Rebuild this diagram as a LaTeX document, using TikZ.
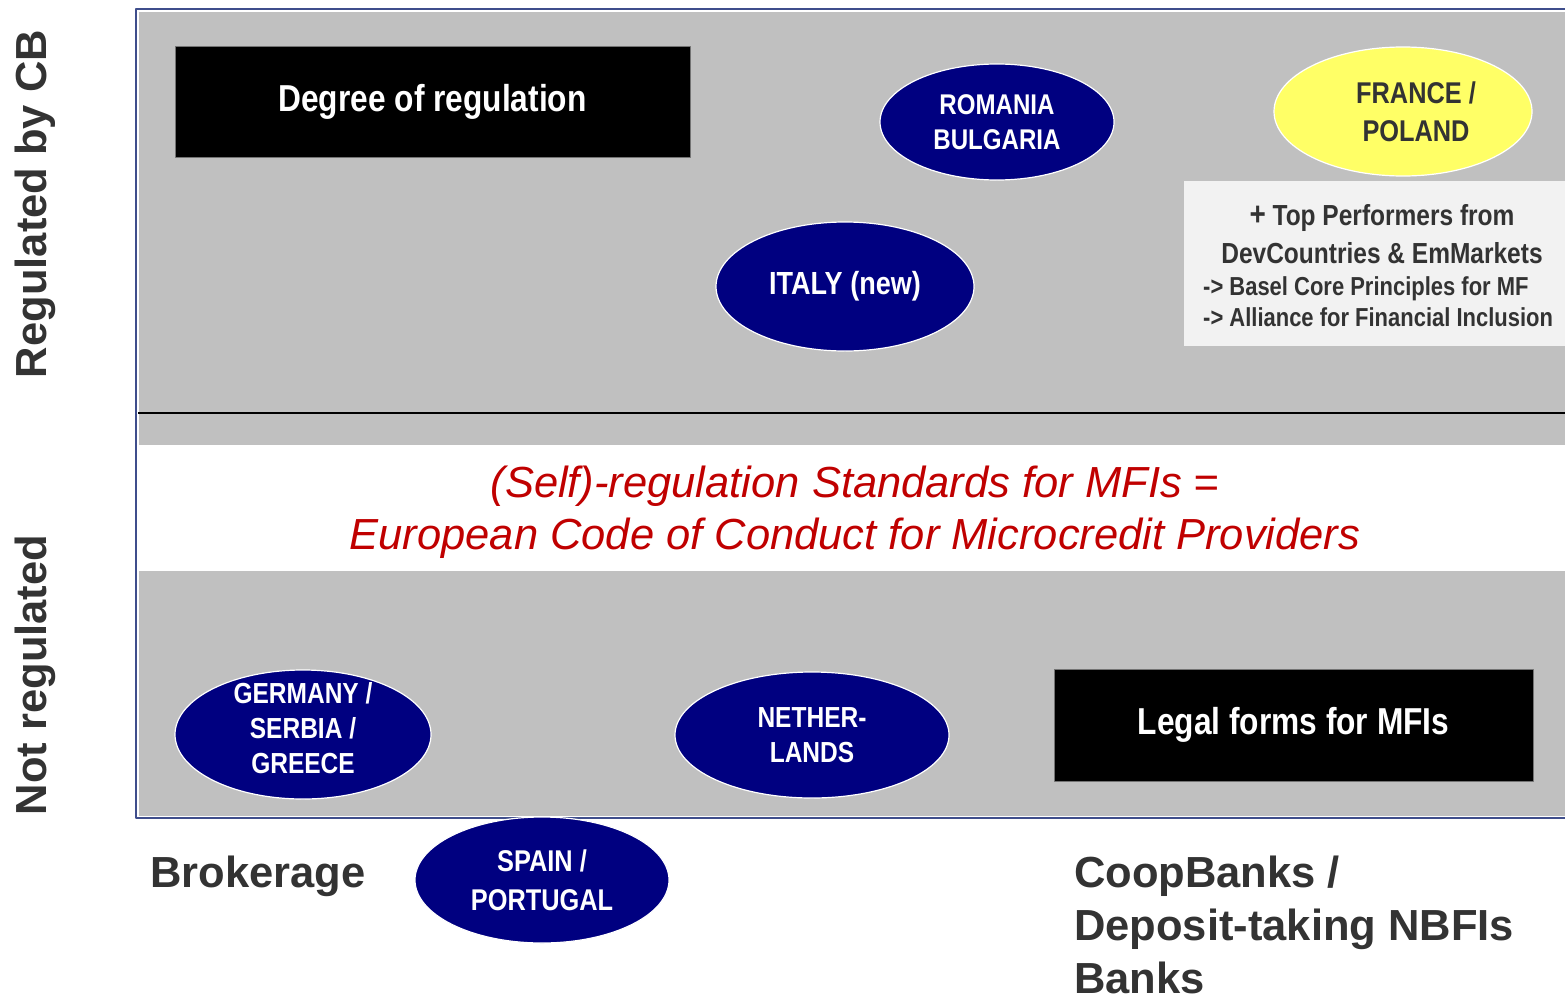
\documentclass[tikz,border=0pt]{standalone}
\usepackage{fontspec}
\setmainfont{Liberation Sans}
\newfontfamily\narrowfont[FakeStretch=0.845]{Liberation Sans}
\usetikzlibrary{shapes.geometric}
\definecolor{mfNavy}{HTML}{000080}
\definecolor{mfGray}{HTML}{C0C0C0}
\definecolor{mfFrame}{HTML}{3F4E8C}
\definecolor{mfInk}{HTML}{333333}
\definecolor{mfRed}{HTML}{C00000}
\definecolor{mfYellow}{HTML}{FFFF66}
\definecolor{mfPale}{HTML}{F2F2F2}

\begin{document}
\begin{tikzpicture}[x=1pt,y=-1pt,line join=round]
\path[fill=white] (0,0) rectangle (1565,993);
\useasboundingbox (0,0) rectangle (1565,993);
\clip (0,0) rectangle (1565,993);
\tikzset{country/.style={ellipse,draw=white,line width=1.2pt,fill=mfNavy,text=white,inner sep=0pt,align=center,font=\narrowfont\bfseries\fontsize{29}{35}\selectfont},titlebox/.style={draw=black!55,line width=0.8pt,fill=black,text=white,inner sep=0pt,font=\narrowfont\bfseries\fontsize{37.5}{44}\selectfont},axislabel/.style={text=mfInk,inner sep=0pt,font=\bfseries\fontsize{43.5}{53}\selectfont},notes/.style={text=mfInk,inner sep=0pt,font=\narrowfont\bfseries}}
\path[draw=mfFrame,line width=2pt,fill=white] (136,9) rectangle (1600,818);
\path[fill=mfGray] (139,11.5) rectangle (1600,815.5);
\path[fill=white] (139,445) rectangle (1600,571);
\draw[line width=2pt] (138,413) -- (1600,413);
\path[fill=mfPale] (1184,181) rectangle (1600,346);
\node[titlebox,minimum width=515pt,minimum height=111pt] (degree) at (432.5,101.5) {Degree of regulation};
\node[titlebox,minimum width=479pt,minimum height=112pt] (legal) at (1293.5,725) {Legal forms for MFIs};
\node[country,minimum width=234pt,minimum height=116pt,font=\narrowfont\bfseries\fontsize{28.5}{35}\selectfont] (romania) at (997,122) {ROMANIA\\BULGARIA};
\node[country,minimum width=258pt,minimum height=129pt,fill=mfYellow] (france) at (1403,111.5) {};
\node[country,draw=none,fill=none,text=mfInk,font=\narrowfont\bfseries\fontsize{30}{38}\selectfont] (francetext) at (1416,112) {FRANCE /\\POLAND};
\node[country,minimum width=258pt,minimum height=129pt,font=\narrowfont\bfseries\fontsize{32}{38}\selectfont] (italy) at (845,286.5) {ITALY (new)};
\node[country,minimum width=256pt,minimum height=129pt] (germany) at (303,734.5) {};
\node[country,draw=none,fill=none] (germanytext) at (303,728.5) {GERMANY /\\SERBIA /\\GREECE};
\node[country,minimum width=274pt,minimum height=126pt] (netherlands) at (812,735) {NETHER-\\LANDS};
\node[country,minimum width=254pt,minimum height=126pt,font=\narrowfont\bfseries\fontsize{30}{39}\selectfont] (spain) at (542,880) {SPAIN /\\PORTUGAL};
\node[notes,align=center,font=\narrowfont\bfseries\fontsize{29}{38}\selectfont] (peers) at (1382,234) {{\fontsize{33}{38}\selectfont+} Top Performers from\\DevCountries \& EmMarkets};
\node[notes,align=left,anchor=west,font=\narrowfont\bfseries\fontsize{26}{31}\selectfont] (principles) at (1203,302) {-> Basel Core Principles for MF\\-> Alliance for Financial Inclusion};
\node[text=mfRed,inner sep=0pt,anchor=base,font=\itshape\fontsize{43.5}{52}\selectfont] (selfreg) at (855,497) {(Self)-regulation Standards for MFIs =};
\node[text=mfRed,inner sep=0pt,anchor=base,font=\itshape\fontsize{43.5}{52}\selectfont] (code) at (855,549) {European Code of Conduct for Microcredit Providers};
\node[axislabel,rotate=90,anchor=base] (regcb) at (46,204) {Regulated by CB};
\node[axislabel,rotate=90,anchor=base] (notreg) at (46,675) {Not regulated};
\node[axislabel,anchor=base west] (brokerage) at (150,887) {Brokerage};
\node[axislabel,align=left,anchor=north west] (coop) at (1074,856) {CoopBanks /\\Deposit-taking NBFIs\\Banks};
\end{tikzpicture}
\end{document}
